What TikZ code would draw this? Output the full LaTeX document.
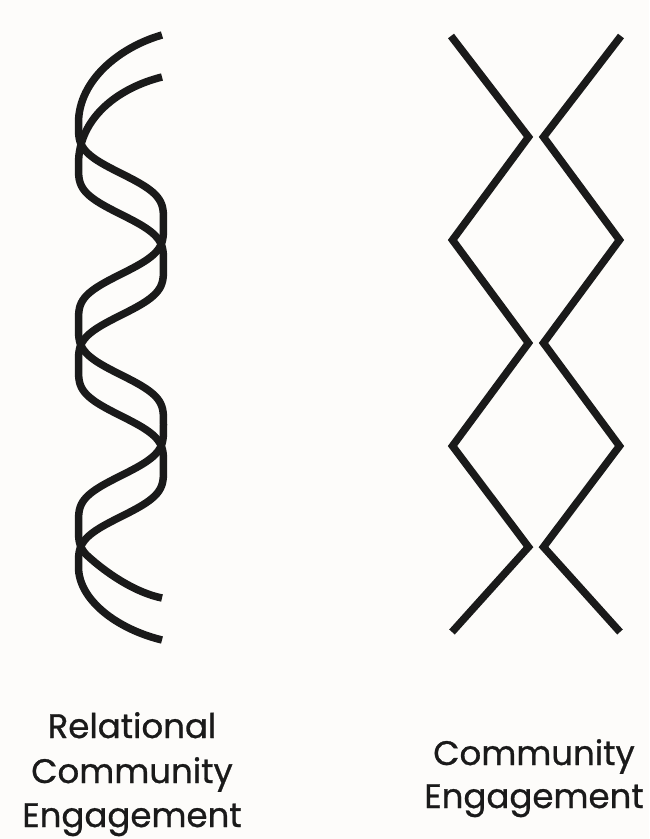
\documentclass[tikz,border=0pt]{standalone}
\usepackage{fontspec}
\newfontfamily\lblfont{Poppins}[FakeBold=0.8]
\definecolor{bg}{RGB}{253,252,250}
\definecolor{ink}{RGB}{26,26,26}
\tikzset{
  strand/.style={draw=ink, line width=7.5pt, line cap=butt},
  zig/.style={draw=ink, line width=7.5pt, line cap=butt, line join=miter},
  lbl/.style={font=\lblfont\fontsize{34}{40}\selectfont, text=ink, anchor=base, inner sep=0pt}
}
\begin{document}
\begin{tikzpicture}[x=1pt,y=-1pt]
\fill[bg] (0,0) rectangle (649,839);
\useasboundingbox (0,0) rectangle (649,839);
% helix strand 1: top flare, body, bottom flare
\draw[strand] (162,35) .. controls (120,47) and (78.5,80) .. (78.5,123)
  -- plot[domain=123:555, samples=220, variable=\t, smooth]
  ({121 - 42.5*(9*cos(1.7866*(\t-123)) - cos(5.3598*(\t-123)))/8}, {\t})
  .. controls (108.3,575) and (137,593) .. (162,598);
% helix strand 2
\draw[strand] (162,77) .. controls (118,88) and (78.5,118) .. (78.5,164)
  -- plot[domain=164:567, samples=220, variable=\t, smooth]
  ({121 - 42.5*(9*cos(1.7866*(\t-164)) - cos(5.3598*(\t-164)))/8}, {\t})
  .. controls (78.5,600) and (117,629) .. (162,640);
% zigzags
\coordinate (a0) at (451,36);
\coordinate (a1) at (528.5,137);
\coordinate (a2) at (452.5,240);
\coordinate (a3) at (528.5,343);
\coordinate (a4) at (452.5,446);
\coordinate (a5) at (528.5,547);
\coordinate (a6) at (452,632);
\coordinate (b0) at (621,36);
\coordinate (b1) at (543.5,137);
\coordinate (b2) at (619.5,240);
\coordinate (b3) at (543.5,343);
\coordinate (b4) at (619.5,446);
\coordinate (b5) at (543.5,547);
\coordinate (b6) at (620,632);
\draw[zig] (a0) -- (a1) -- (a2) -- (a3) -- (a4) -- (a5) -- (a6);
\draw[zig] (b0) -- (b1) -- (b2) -- (b3) -- (b4) -- (b5) -- (b6);
% labels
\node[lbl] (l1) at (132,738) {Relational};
\node[lbl] (l2) at (132,783) {Community};
\node[lbl] (l3) at (132,827) {Engagement};
\node[lbl] (r1) at (534,765) {Community};
\node[lbl] (r2) at (534,808) {Engagement};
\end{tikzpicture}
\end{document}
